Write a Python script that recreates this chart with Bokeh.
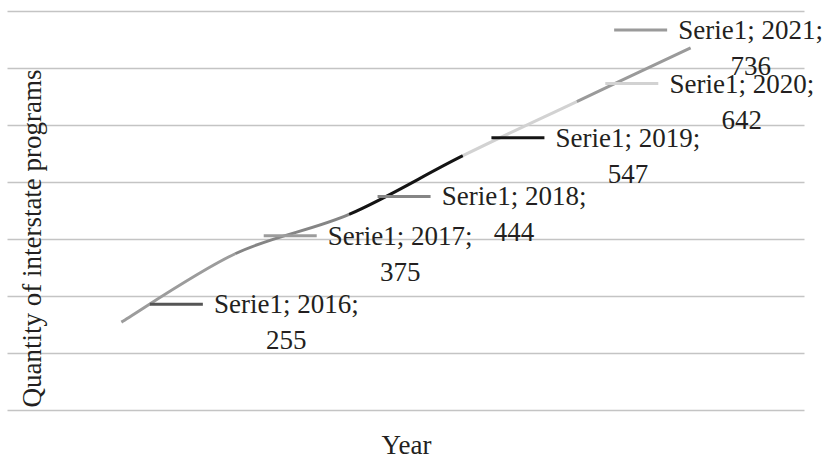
from math import pi
from bokeh.plotting import figure
from bokeh.models import ColumnDataSource, LabelSet, Label, Range1d
from bokeh.embed import file_html
from bokeh.resources import INLINE

# ---- data ----
series_name = "Serie1"
years = [2016, 2017, 2018, 2019, 2020, 2021]
values = [255, 375, 444, 547, 642, 736]
point_colors = ["#555555", "#9c9c9c", "#858585", "#141414", "#d2d2d2", "#9a9a9a"]
y_ticks = [100, 200, 300, 400, 500, 600, 700, 800]
x_title = "Year"
y_title = "Quantity of interstate programs"

# ---- layout (pixels) ----
W, H = 831, 465
GL, GR, GT, GB = 7, 804, 11, 410      # plot-area box in canvas pixels
X0, X1 = 2015, 2022                   # category span of the plot area
Y0, Y1 = y_ticks[0], y_ticks[-1]
sx = (GR - GL) / (X1 - X0)            # px per year
sy = (GB - GT) / (Y1 - Y0)            # px per unit
FONT = "Liberation Serif"
FS = "27px"
TXT = "#231f20"

p = figure(width=W, height=H, output_backend="svg", toolbar_location=None,
           x_axis_location=None, y_axis_location=None,
           x_range=Range1d(X0 - GL / sx, X0 + (W - GL) / sx),
           y_range=Range1d(Y0 - (H - GB) / sy, Y1 + GT / sy),
           min_border_left=0, min_border_right=0, min_border_top=0, min_border_bottom=0)
p.outline_line_color = None
p.grid.visible = False
p.background_fill_color = "white"
p.border_fill_color = "white"

# horizontal gridlines
p.segment(x0=[X0] * len(y_ticks), x1=[X1] * len(y_ticks), y0=y_ticks, y1=y_ticks,
          line_color="#c4c4c4", line_width=1.6)

# smoothed line: one cubic bezier per segment (Catmull-Rom style control points)
n = len(years)
bz = dict(x0=[], y0=[], x1=[], y1=[], cx0=[], cy0=[], cx1=[], cy1=[], c=[])
for i in range(n - 1):
    xm, ym = (years[i - 1], values[i - 1]) if i > 0 else (years[i], values[i])
    xa, ya = years[i], values[i]
    xb, yb = years[i + 1], values[i + 1]
    xp, yp = (years[i + 2], values[i + 2]) if i + 2 < n else (xb, yb)
    bz["x0"].append(xa); bz["y0"].append(ya)
    bz["x1"].append(xb); bz["y1"].append(yb)
    bz["cx0"].append(xa + (xb - xm) / 6); bz["cy0"].append(ya + (yb - ym) / 6)
    bz["cx1"].append(xb - (xp - xa) / 6); bz["cy1"].append(yb - (yp - ya) / 6)
    bz["c"].append(point_colors[i + 1])
p.bezier(x0="x0", y0="y0", x1="x1", y1="y1", cx0="cx0", cy0="cy0", cx1="cx1", cy1="cy1",
         line_color="c", line_width=3, source=ColumnDataSource(bz))

# data labels: two centred lines to the right of the point (last one pulled left)
label_dx_px = [165, 165, 165, 165, 165, 60]
half_line_px = 18
lab_x = [y + d / sx for y, d in zip(years, label_dx_px)]
top_y = [v + half_line_px / sy for v in values]
bot_y = [v - half_line_px / sy for v in values]
top_t = [f"{series_name}; {y};" for y in years]
bot_t = [f"{v}" for v in values]
key_x = [x - 110 / sx for x in lab_x]

p.scatter(x=key_x, y=top_y, marker="dash", size=53, line_width=3, line_color=point_colors)

src = ColumnDataSource(dict(x=lab_x, ty=top_y, by=bot_y, tt=top_t, bt=bot_t))
for ycol, tcol in (("ty", "tt"), ("by", "bt")):
    p.add_layout(LabelSet(x="x", y=ycol, text=tcol, source=src,
                          text_font=FONT, text_font_size=FS, text_color=TXT,
                          text_align="center", text_baseline="middle"))

p.add_layout(Label(x=X0 + (31 - GL) / sx, y=Y0 + (GB - 238) / sy, text=y_title, angle=pi / 2,
                   text_font=FONT, text_font_size=FS, text_color=TXT,
                   text_align="center", text_baseline="middle"))
p.add_layout(Label(x=X0 + (406 - GL) / sx, y=Y0 - (444 - GB) / sy, text=x_title,
                   text_font=FONT, text_font_size=FS, text_color=TXT,
                   text_align="center", text_baseline="middle"))

open("out.html", "w").write(file_html(p, INLINE))
